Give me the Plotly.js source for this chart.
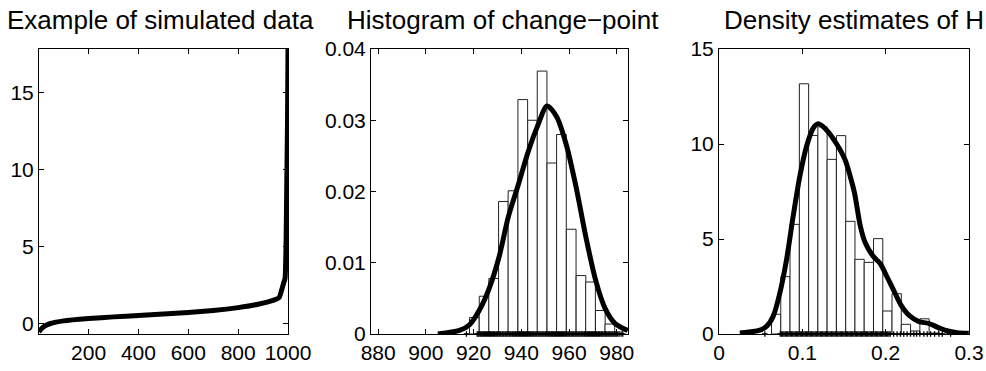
<!DOCTYPE html>
<html>
<head>
<meta charset="utf-8">
<script src="https://cdn.plot.ly/plotly-3.0.1.min.js"></script>
<style>
  html, body { margin: 0; padding: 0; background: #fff; }
  #chart { width: 986px; height: 371px; }
</style>
</head>
<body>
<div id="chart"></div>
<script>
// ---- Panel 1: example of simulated data (sorted series) ----
const simIndex = [1, 10, 25, 47, 100, 200, 300, 400, 500, 600, 700, 800, 880, 940, 965, 975, 982, 988, 992, 995, 998, 1000];
const simValue = [-0.55, -0.35, -0.15, 0.0, 0.17, 0.32, 0.43, 0.52, 0.61, 0.71, 0.84, 1.03, 1.25, 1.5, 1.7, 2.2, 2.6, 2.9, 5.0, 9.0, 13.0, 17.8];

// ---- Panel 2: histogram of change-point ----
const cpBinCenters = [920.3, 924.4, 928.4, 932.5, 936.5, 940.6, 944.7, 948.7, 952.8, 956.8, 960.9, 965.0, 969.0, 973.1, 977.1];
const cpDensity = [0.0023, 0.0053, 0.0078, 0.0186, 0.0201, 0.0329, 0.0300, 0.0369, 0.0240, 0.0280, 0.0147, 0.0082, 0.0073, 0.0033, 0.0014];
const cpKdeX = [905.0, 914.1, 918.3, 922.5, 926.3, 930.5, 934.6, 938.6, 942.7, 946.7, 950.8, 954.8, 958.9, 962.9, 967.0, 971.1, 975.1, 979.2, 984.6];
const cpKdeY = [0.0000, 0.0005, 0.0013, 0.0034, 0.0062, 0.0106, 0.0165, 0.0208, 0.0254, 0.0291, 0.0320, 0.0305, 0.0265, 0.0207, 0.0137, 0.0076, 0.0036, 0.0015, 0.0005];
const cpDraws = [917.0, 921.5, 921.9, 922.3, 922.8, 923.2, 923.6, 924.1, 924.5, 925.0, 925.4, 925.8, 926.3, 926.7, 927.1, 927.5, 928.0, 928.4, 928.8, 929.3, 929.7, 930.1, 930.6, 931.0, 931.4, 931.9, 932.3, 932.7, 933.2, 933.6, 934.0, 934.4, 934.9, 935.3, 935.7, 936.2, 936.6, 937.0, 937.5, 937.9, 938.3, 938.8, 939.2, 939.6, 940.1, 940.5, 940.9, 941.3, 941.8, 942.2, 942.6, 943.1, 943.5, 943.9, 944.4, 944.8, 945.2, 945.7, 946.1, 946.5, 947.0, 947.4, 947.8, 948.2, 948.7, 949.1, 949.5, 950.0, 950.4, 950.8, 951.3, 951.7, 952.1, 952.6, 953.0, 953.4, 953.9, 954.3, 954.7, 955.1, 955.6, 956.0, 956.4, 956.9, 957.3, 957.7, 958.2, 958.6, 959.0, 959.5, 959.9, 960.3, 960.8, 961.2, 961.6, 962.0, 962.5, 962.9, 963.3, 963.8, 964.2, 964.6, 965.1, 965.5, 965.9, 966.4, 966.8, 967.2, 967.7, 968.1, 968.5, 968.9, 969.4, 969.8, 970.2, 970.7, 971.1, 971.5, 972.0, 972.4, 972.8, 973.3, 973.7, 974.1, 974.6, 975.0, 975.4, 975.8, 976.3, 976.7, 977.1, 977.6, 978.0, 978.4, 978.9, 979.3, 979.8, 980.4, 981.0, 981.8, 982.5];

// ---- Panel 3: density estimates of H ----
const hBinCenters = [0.0686, 0.0797, 0.0908, 0.1020, 0.1131, 0.1242, 0.1353, 0.1465, 0.1576, 0.1687, 0.1798, 0.1910, 0.2021, 0.2132, 0.2243, 0.2355, 0.2466, 0.2577, 0.2688, 0.2800];
const hDensity = [1.04, 3.02, 5.77, 13.17, 10.45, 10.9, 9.19, 10.44, 5.93, 3.93, 3.77, 5.02, 1.21, 2.12, 0.51, 0.16, 0.8, 0.05, 0.25, 0.12];
const hKdeX = [0.025, 0.049, 0.057, 0.065, 0.073, 0.081, 0.089, 0.097, 0.105, 0.113, 0.119, 0.129, 0.1406, 0.1514, 0.1575, 0.1627, 0.1695, 0.1755, 0.1848, 0.1936, 0.2017, 0.2096, 0.218, 0.2289, 0.240, 0.2514, 0.2627, 0.2735, 0.286, 0.2997];
const hKdeY = [0.05, 0.2, 0.4, 0.93, 2.15, 3.9, 6.2, 8.3, 9.87, 10.83, 11.06, 10.74, 10.04, 9.16, 8.29, 7.41, 5.7, 4.8, 4.1, 3.7, 3.0, 2.3, 1.55, 0.95, 0.65, 0.56, 0.35, 0.17, 0.07, 0.04];
const hDraws = [0.055, 0.0735, 0.075, 0.0765, 0.078, 0.0795, 0.081, 0.0825, 0.084, 0.0855, 0.087, 0.0885, 0.090, 0.0915, 0.093, 0.0945, 0.096, 0.0975, 0.099, 0.1005, 0.102, 0.1035, 0.105, 0.1065, 0.108, 0.1095, 0.111, 0.1125, 0.114, 0.1155, 0.117, 0.1185, 0.120, 0.1215, 0.123, 0.1245, 0.126, 0.1275, 0.129, 0.1305, 0.132, 0.1335, 0.135, 0.1365, 0.138, 0.1395, 0.141, 0.1425, 0.144, 0.1455, 0.147, 0.1485, 0.150, 0.1515, 0.153, 0.1545, 0.156, 0.1575, 0.159, 0.1605, 0.162, 0.1635, 0.165, 0.1665, 0.168, 0.1695, 0.171, 0.1725, 0.174, 0.1755, 0.177, 0.1785, 0.180, 0.1815, 0.183, 0.1845, 0.186, 0.1875, 0.189, 0.1905, 0.192, 0.1935, 0.195, 0.1965, 0.198, 0.1995, 0.201, 0.2025, 0.204, 0.2055, 0.2096, 0.2137, 0.2177, 0.2217, 0.2257, 0.2298, 0.2338, 0.2371, 0.241, 0.2458, 0.2499, 0.2539, 0.2587, 0.2639, 0.2679, 0.2779];

const cpBinWidth = 4.06;
const hBinWidth = 0.01113;

const W = 986, H = 371;
const FONT = 'Liberation Sans, Arial, Helvetica, sans-serif';
const plotTop = 49, plotBottom = 334;
const ydom = [(H - plotBottom) / H, (H - plotTop) / H];

function axisStyle(extra) {
  return Object.assign({
    showline: true, linecolor: '#000', linewidth: 1, mirror: 'ticks',
    ticks: 'inside', ticklen: 5, tickwidth: 1, tickcolor: '#000',
    showgrid: false, zeroline: false,
    tickfont: { family: FONT, size: 21, color: '#000' }
  }, extra);
}

const rugMarker = { symbol: 'cross-thin-open', size: 4, color: '#000', line: { width: 1.3, color: '#000' } };

const traces = [
  { type: 'scatter', mode: 'lines', x: simIndex, y: simValue, xaxis: 'x', yaxis: 'y',
    line: { color: '#000', width: 5, shape: 'spline', smoothing: 0.5 }, cliponaxis: true, hoverinfo: 'skip' },

  { type: 'bar', x: cpBinCenters, y: cpDensity, width: cpBinCenters.map(() => cpBinWidth),
    xaxis: 'x2', yaxis: 'y2', marker: { color: '#fff', line: { color: '#222', width: 1 } } },
  { type: 'scatter', mode: 'markers', x: cpDraws, y: cpDraws.map(() => 0), xaxis: 'x2', yaxis: 'y2',
    marker: rugMarker, cliponaxis: false },
  { type: 'scatter', mode: 'lines', x: cpKdeX, y: cpKdeY, xaxis: 'x2', yaxis: 'y2',
    line: { color: '#000', width: 5, shape: 'spline', smoothing: 0.8 }, cliponaxis: false },

  { type: 'bar', x: hBinCenters, y: hDensity, width: hBinCenters.map(() => hBinWidth),
    xaxis: 'x3', yaxis: 'y3', marker: { color: '#fff', line: { color: '#222', width: 1 } } },
  { type: 'scatter', mode: 'markers', x: hDraws, y: hDraws.map(() => 0), xaxis: 'x3', yaxis: 'y3',
    marker: rugMarker, cliponaxis: false },
  { type: 'scatter', mode: 'lines', x: hKdeX, y: hKdeY, xaxis: 'x3', yaxis: 'y3',
    line: { color: '#000', width: 5, shape: 'spline', smoothing: 0.8 }, cliponaxis: false }
];

const layout = {
  width: W, height: H,
  margin: { l: 0, r: 0, t: 0, b: 0 },
  paper_bgcolor: '#fff', plot_bgcolor: '#fff',
  showlegend: false, bargap: 0,
  font: { family: FONT, color: '#000' },
  xaxis: axisStyle({ domain: [39 / W, 288 / W], range: [1, 1000], tickvals: [200, 400, 600, 800, 1000], anchor: 'y' }),
  yaxis: axisStyle({ domain: ydom, range: [-0.68, 17.8], tickvals: [0, 5, 10, 15], anchor: 'x' }),
  xaxis2: axisStyle({ domain: [371 / W, 628 / W], range: [877, 984.7], tickvals: [880, 900, 920, 940, 960, 980], anchor: 'y2' }),
  yaxis2: axisStyle({ domain: ydom, range: [0, 0.04], tickvals: [0, 0.01, 0.02, 0.03, 0.04], ticktext: ['0', '0.01', '0.02', '0.03', '0.04'], anchor: 'x2' }),
  xaxis3: axisStyle({ domain: [719 / W, 969 / W], range: [0, 0.3], tickvals: [0, 0.1, 0.2, 0.3], ticktext: ['0', '0.1', '0.2', '0.3'], anchor: 'y3' }),
  yaxis3: axisStyle({ domain: ydom, range: [0, 15], tickvals: [0, 5, 10, 15], anchor: 'x3' }),
  annotations: [
    { text: 'Example of simulated data', x: 160 / W, y: 1 - 20 / H },
    { text: 'Histogram of change\u2212point', x: 503 / W, y: 1 - 20 / H },
    { text: 'Density estimates of H', x: 854 / W, y: 1 - 20 / H }
  ].map(a => Object.assign(a, { xref: 'paper', yref: 'paper', xanchor: 'center', yanchor: 'middle',
    showarrow: false, font: { family: FONT, size: 26, color: '#000' } }))
};

Plotly.newPlot('chart', traces, layout, { displayModeBar: false, staticPlot: true });
</script>
</body>
</html>
